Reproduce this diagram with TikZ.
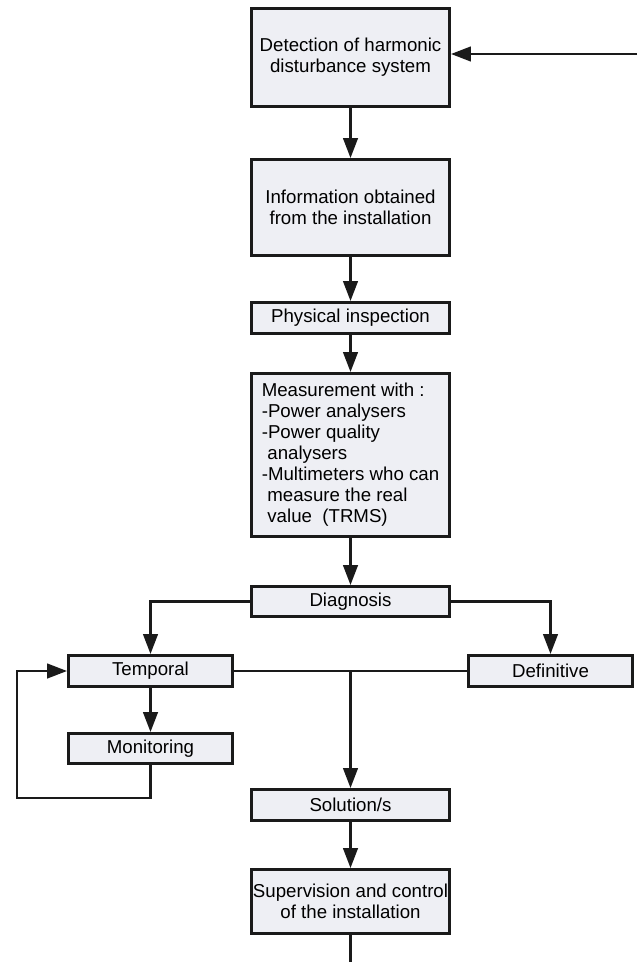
\documentclass[tikz,border=0pt]{standalone}
\usepackage{fontspec}
\setmainfont{Liberation Sans}
\usepackage{xcolor}
\usetikzlibrary{positioning, arrows.meta}
\definecolor{boxfill}{HTML}{EEEFF4}
\definecolor{inkline}{HTML}{1A1A1A}

\begin{document}
\begin{tikzpicture}[
    x=0.75pt, y=-0.75pt,
    cnode/.style={draw=inkline, line width=2.2pt, fill=boxfill, inner sep=0pt, minimum width=148.5pt, align=center, font=\fontsize{14}{15.75}\selectfont},
    snode/.style={cnode, minimum width=123pt},
    link/.style={draw=inkline, line width=1.8pt},
    flow/.style={link, -{Triangle[length=15pt, width=11pt]}}
]
\useasboundingbox (0,0) rectangle (637,962);

\node[cnode, minimum height=73.5pt] (detect) at (350.5, 57.5) {Detection of harmonic \\ disturbance system};
\node[cnode, minimum height=72pt] (info) at (350.5, 207.5) {Information obtained \\ from the installation};
\node[cnode, minimum height=23.3pt] (inspect) at (350.5, 318) {Physical inspection};
\node[cnode, minimum height=122.3pt, align=left] (measure) at (350.5, 455) {Measurement with :\\-Power analysers\\-Power quality\\\hspace*{0.3em}analysers\\-Multimeters who can\\\hspace*{0.3em}measure the real\\\hspace*{0.3em}value\ \ (TRMS)};
\node[cnode, minimum height=22.5pt] (diag) at (350.5, 601.5) {Diagnosis};
\node[snode, minimum height=23.3pt] (temporal) at (150.5, 671) {Temporal};
\node[snode, minimum height=23.3pt] (definitive) at (550.5, 671) {Definitive};
\node[snode, minimum height=22.5pt] (monitor) at (150.5, 748.5) {Monitoring};
\node[cnode, minimum height=23.3pt] (solution) at (350.5, 805) {Solution/s};
\node[cnode, minimum height=48pt] (supervise) at (350.5, 901.5) {Supervision and control \\ of the installation};

\coordinate (feedin) at (637, 54);
\coordinate (junction) at (350.5, 671);
\coordinate (loopcorner) at (17, 798);
\coordinate (exitdown) at (350.5, 962);

\draw[flow] (feedin) -- (feedin -| detect.east);
\draw[flow] (detect) -- (info);
\draw[flow] (info) -- (inspect);
\draw[flow] (inspect) -- (measure);
\draw[flow] (measure) -- (diag);
\draw[flow] (diag.west) -| (temporal.north);
\draw[flow] (diag.east) -| (definitive.north);
\draw[link] (temporal.east) -- (definitive.west);
\draw[flow] (junction) -- (solution);
\draw[flow] (temporal) -- (monitor);
\draw[flow] (monitor.south) |- (loopcorner) |- (temporal.west);
\draw[flow] (solution) -- (supervise);
\draw[link] (supervise) -- (exitdown);
\end{tikzpicture}
\end{document}
